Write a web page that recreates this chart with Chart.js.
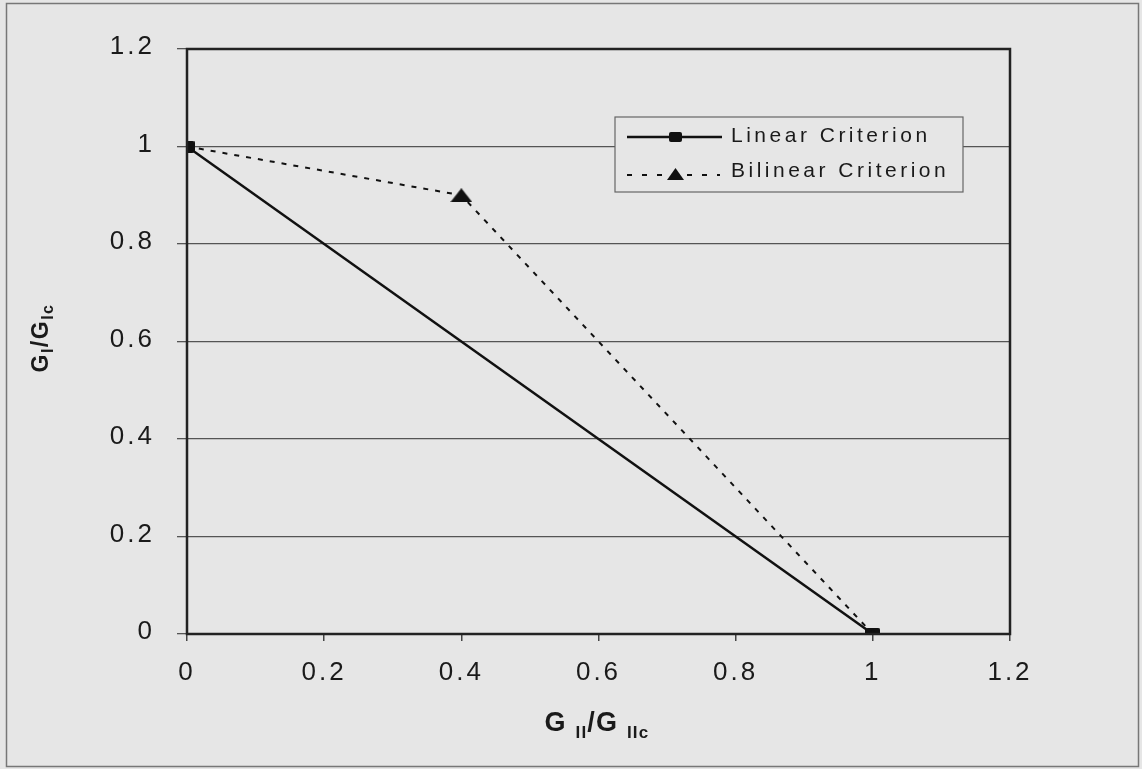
<!DOCTYPE html>
<html><head><meta charset="utf-8">
<script src="https://cdn.jsdelivr.net/npm/chart.js@4/dist/chart.umd.min.js"></script>
<style>html,body{margin:0;padding:0;background:#e6e6e6;}#wrap{width:1142px;height:769px;position:relative;}</style>
</head><body><div id="wrap"><canvas id="c" width="1142" height="769"></canvas></div>
<script>
const linearX = [0, 1];
const linearY = [1, 0];
const bilinearX = [0, 0.4, 1];
const bilinearY = [1, 0.9, 0];
const xTicks = [0, 0.2, 0.4, 0.6, 0.8, 1, 1.2];
const yTicks = [0, 0.2, 0.4, 0.6, 0.8, 1, 1.2];
const seriesNames = ['Linear Criterion', 'Bilinear Criterion'];

const FONT = '"Liberation Sans", Arial, sans-serif';
const pts = (xs, ys) => xs.map((x, i) => ({x, y: ys[i]}));

function makeTri(w, h) {
  const c = document.createElement('canvas');
  c.width = w; c.height = h;
  const g = c.getContext('2d');
  g.fillStyle = '#111';
  g.beginPath(); g.moveTo(w / 2, 0); g.lineTo(w, h); g.lineTo(0, h); g.closePath(); g.fill();
  return c;
}
function makeRect(w, h) {
  const c = document.createElement('canvas');
  c.width = w; c.height = h;
  const g = c.getContext('2d');
  g.fillStyle = '#111';
  g.beginPath(); g.roundRect(0, 0, w, h, 2); g.fill();
  return c;
}
const triBig = makeTri(22, 14);
const triSmall = makeTri(14, 10);
const sq = makeRect(15, 12);

const bgPlugin = {
  id: 'bg',
  beforeDraw(chart) {
    const ctx = chart.ctx;
    ctx.fillStyle = '#e6e6e6';
    ctx.fillRect(0, 0, chart.width, chart.height);
    ctx.strokeStyle = '#777';
    ctx.lineWidth = 1.5;
    ctx.strokeRect(6.5, 3.5, chart.width - 10, chart.height - 6);
    ctx.letterSpacing = '3px';
  },
  afterDatasetsDraw(chart) {
    const ctx = chart.ctx;
    const a = chart.chartArea;
    ctx.save();
    ctx.strokeStyle = '#222';
    ctx.lineWidth = 2.5;
    ctx.strokeRect(a.left, a.top, a.right - a.left, a.bottom - a.top);
    ctx.restore();
  },
  afterDraw(chart) {
    const ctx = chart.ctx;
    ctx.save();
    ctx.fillStyle = '#1a1a1a';
    function draw(x, y, parts, big, small, off, gap, doDraw) {
      let cx = x;
      for (const [t, s] of parts) {
        ctx.font = 'bold ' + (s ? small : big) + 'px ' + FONT;
        ctx.textBaseline = 'alphabetic';
        if (doDraw) ctx.fillText(t, cx, y + (s ? off : 0));
        cx += ctx.measureText(t).width + (s ? gap : 0);
      }
      return cx - x;
    }
    ctx.textAlign = 'left';
    // Y title (rotated)
    ctx.letterSpacing = '1.5px';
    const yp = [['G', false], ['I', true], ['/G', false], ['Ic', true]];
    const yw = draw(0, 0, yp, 23, 16, 5, 0, false);
    ctx.save();
    ctx.translate(48, 338);
    ctx.rotate(-Math.PI / 2);
    draw(-yw / 2, 0, yp, 23, 16, 5, 0, true);
    ctx.restore();
    // X title
    ctx.letterSpacing = '1.2px';
    const xp = [['G ', false], ['II', true], ['/G ', false], ['IIc', true]];
    const xw = draw(0, 0, xp, 27, 17, 7, 0, false);
    draw(597 - xw / 2, 731, xp, 27, 17, 7, 0, true);
    ctx.letterSpacing = '0px';

    // Legend
    const lx = 615, ly = 117, lw = 348, lh = 75;
    ctx.fillStyle = '#e6e6e6';
    ctx.fillRect(lx, ly, lw, lh);
    ctx.strokeStyle = '#666';
    ctx.lineWidth = 1.2;
    ctx.strokeRect(lx, ly, lw, lh);
    // linear
    ctx.strokeStyle = '#111';
    ctx.lineWidth = 2.5;
    ctx.beginPath(); ctx.moveTo(627, 137); ctx.lineTo(722, 137); ctx.stroke();
    ctx.drawImage(makeRect(13, 10), 669, 132);
    // bilinear
    ctx.lineWidth = 2;
    ctx.setLineDash([5, 10]);
    ctx.beginPath(); ctx.moveTo(627, 175); ctx.lineTo(720, 175); ctx.stroke();
    ctx.setLineDash([]);
    ctx.drawImage(makeTri(17, 12), 667, 168);
    ctx.font = '21px ' + FONT;
    ctx.letterSpacing = '3.5px';
    ctx.textBaseline = 'middle';
    ctx.fillStyle = '#1a1a1a';
    ctx.fillText(seriesNames[0], 731, 136);
    ctx.fillText(seriesNames[1], 731, 171);
    ctx.letterSpacing = '0px';
    ctx.restore();
  }
};

new Chart(document.getElementById('c'), {
  type: 'scatter',
  data: {
    datasets: [
      {
        label: seriesNames[0],
        data: pts(linearX, linearY),
        showLine: true,
        borderColor: '#111',
        backgroundColor: '#111',
        borderWidth: 2.5,
        pointStyle: sq,
        pointRadius: 7,
        pointBorderWidth: 0,
        order: 2
      },
      {
        label: seriesNames[1],
        data: pts(bilinearX, bilinearY),
        showLine: true,
        borderColor: '#111',
        backgroundColor: '#111',
        borderWidth: 2,
        borderDash: [5, 7],
        pointStyle: [triSmall, triBig, triSmall],
        pointRadius: 8,
        pointBorderWidth: 0,
        order: 1
      }
    ]
  },
  options: {
    responsive: false,
    animation: false,
    layout: { padding: { left: 0, right: 132, top: 49, bottom: 0 } },
    plugins: { legend: { display: false }, tooltip: { enabled: false } },
    scales: {
      x: {
        type: 'linear', min: 0, max: 1.2,
        afterBuildTicks(axis) { axis.ticks = xTicks.map(v => ({value: v})); },
        afterFit(axis) { axis.height = 769 - 634; },
        grid: { drawOnChartArea: false, drawTicks: true, tickLength: 7, color: '#444', lineWidth: 1.5 },
        border: { display: false },
        ticks: { color: '#1a1a1a', font: { family: FONT, size: 26 }, padding: 16,
          callback: v => String(Math.round(v * 10) / 10) }
      },
      y: {
        type: 'linear', min: 0, max: 1.2,
        afterBuildTicks(axis) { axis.ticks = yTicks.map(v => ({value: v})); },
        afterFit(axis) { axis.width = 187; },
        grid: { drawOnChartArea: true, drawTicks: true, tickLength: 10, color: '#555', lineWidth: 1.3 },
        border: { display: false },
        ticks: { color: '#1a1a1a', font: { family: FONT, size: 26 }, padding: 22, labelOffset: -2,
          callback: v => String(Math.round(v * 10) / 10) }
      }
    }
  },
  plugins: [bgPlugin]
});
</script></body></html>
